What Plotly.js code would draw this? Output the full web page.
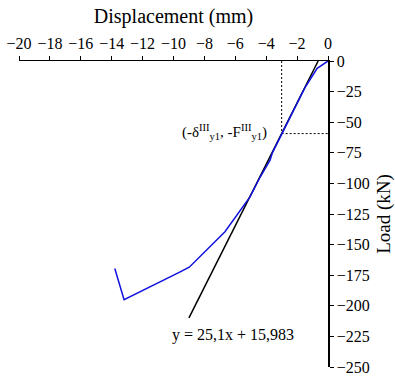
<!DOCTYPE html>
<html>
<head>
<meta charset="utf-8">
<script src="https://cdn.plot.ly/plotly-3.0.1.min.js"></script>
<style>
  html, body { margin: 0; padding: 0; background: #fff; }
  #chart { width: 395px; height: 376px; }
</style>
</head>
<body>
<div id="chart"></div>
<script>
// Measured load–displacement response (mm, kN)
const dispMeasured = [0, -0.7, -1.5, -3.0, -3.6, -3.75, -4.4, -5.05, -6.67, -8.98, -9.6, -13.2, -13.8];
const loadMeasured = [0, -6, -22, -59, -75, -81, -95, -111, -139.5, -168.5, -172.5, -195, -169.5];

// Linear fit of the elastic branch: y = slope * x + intercept
const fitSlope = 25.1;
const fitIntercept = 15.983;
const fitRange = [-9.0, -fitIntercept / fitSlope];

// Yield point read on the fitted line
const yieldDisp = -3.0;

const xTicks = [-20, -18, -16, -14, -12, -10, -8, -6, -4, -2, 0];
const yTicks = [0, -25, -50, -75, -100, -125, -150, -175, -200, -225, -250];

const serif = '"Liberation Serif", "Times New Roman", serif';
const yieldLoad = fitSlope * yieldDisp + fitIntercept;
const fitY = fitRange.map(x => fitSlope * x + fitIntercept);

const traces = [
  { x: [yieldDisp, yieldDisp], y: [0, yieldLoad], mode: 'lines',
    line: { color: '#000', width: 1, dash: '2px,2px' }, hoverinfo: 'skip' },
  { x: [yieldDisp, 0], y: [yieldLoad, yieldLoad], mode: 'lines',
    line: { color: '#000', width: 1, dash: '2px,2px' }, hoverinfo: 'skip' },
  { x: fitRange, y: fitY, mode: 'lines',
    line: { color: '#000', width: 1.5 } },
  { x: dispMeasured, y: loadMeasured, mode: 'lines',
    line: { color: '#1010e0', width: 1.5 } }
];

const layout = {
  width: 395, height: 376,
  margin: { l: 19, r: 67, t: 61, b: 9 },
  paper_bgcolor: '#fff', plot_bgcolor: '#fff',
  showlegend: false,
  font: { family: serif, size: 16, color: '#000' },
  xaxis: {
    side: 'top', range: [-20, 0], tickvals: xTicks,
    showline: true, linecolor: '#000', linewidth: 1.5,
    ticks: 'outside', ticklen: 4, tickwidth: 1, tickcolor: '#000',
    showgrid: false, zeroline: false,
    tickfont: { family: serif, size: 16 },
    title: { text: 'Displacement (mm)', font: { family: serif, size: 20 }, standoff: 6 }
  },
  yaxis: {
    side: 'right', range: [-250, 0], tickvals: yTicks,
    showline: true, linecolor: '#000', linewidth: 1.5,
    ticks: 'outside', ticklen: 4, tickwidth: 1, tickcolor: '#000',
    showgrid: false, zeroline: false,
    tickfont: { family: serif, size: 16 },
    title: { text: 'Load (kN)', font: { family: serif, size: 19 }, standoff: 8 }
  },
  annotations: [
    { x: -3.8, y: -58, xref: 'x', yref: 'y', xanchor: 'right', yanchor: 'middle',
      text: '(-δ<sup>III</sup><sub>y1</sub>, -F<sup>III</sup><sub>y1</sub>)',
      showarrow: false, font: { family: serif, size: 15 } },
    { x: -6.15, y: -223.5, xref: 'x', yref: 'y', xanchor: 'center', yanchor: 'middle',
      text: 'y = 25,1x + 15,983', showarrow: false, font: { family: serif, size: 16 } }
  ]
};

Plotly.newPlot('chart', traces, layout, { staticPlot: true, displayModeBar: false });
</script>
</body>
</html>
